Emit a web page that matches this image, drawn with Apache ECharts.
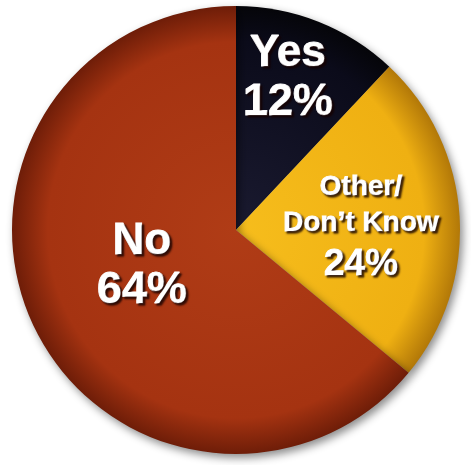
<!DOCTYPE html>
<html>
<head>
<meta charset="utf-8">
<script src="https://cdn.jsdelivr.net/npm/echarts@6/dist/echarts.min.js"></script>
<style>
  html, body { margin: 0; padding: 0; background: #ffffff; }
  #chart { width: 471px; height: 465px; }
</style>
</head>
<body>
<div id="chart"></div>
<script>
// Survey answers, in clockwise order from 12 o'clock
const categories = ['Yes', 'Other/\nDon\u2019t Know', 'No'];
const shares = [12, 24, 64];

// Per-slice shading: inner, body, rim
const sliceShades = [
  ['#1a1a30', '#0b0b1a', '#050509'],
  ['#f6bd1c', '#efb012', '#b27808'],
  ['#b03c16', '#a53311', '#6e1d08']
];

const CX = 236, CY = 230, R = 224;

function shade(i) {
  const s = sliceShades[i];
  return {
    type: 'radial', x: CX, y: CY, r: R, global: true,
    colorStops: [
      { offset: 0, color: s[0] },
      { offset: 0.84, color: s[1] },
      { offset: 1, color: s[2] }
    ]
  };
}

// Label anchor points for each slice (centre of the text block)
const labelSpots = [[288, 78], [361, 229], [142, 266]];

const FONT = '"Liberation Sans", Arial, sans-serif';
const txt = {
  color: '#ffffff',
  fontFamily: FONT,
  fontWeight: 'bold',
  textBorderColor: '#ffffff',
  textBorderWidth: 1,
  textShadowColor: 'rgba(20,0,0,0.85)',
  textShadowBlur: 2,
  textShadowOffsetX: 2,
  textShadowOffsetY: 2
};

const chart = echarts.init(document.getElementById('chart'), null, { renderer: 'canvas' });

chart.setOption({
  backgroundColor: '#ffffff',
  animation: false,
  series: [{
    type: 'pie',
    center: [CX, CY],
    radius: R,
    startAngle: 90,
    clockwise: true,
    avoidLabelOverlap: false,
    labelLine: { show: false },
    itemStyle: {
      borderWidth: 0,
      shadowColor: 'rgba(0,0,0,0.45)',
      shadowBlur: 8,
      shadowOffsetX: 3,
      shadowOffsetY: 4
    },
    label: {
      show: true,
      position: 'inside',
      align: 'center',
      formatter: function (p) {
        const big = p.dataIndex === 1 ? 's' : 'b';
        return '{' + big + '|' + p.name.split('\n').join('}\n{' + big + '|') + '}\n{v' + big + '|' + p.value + '%}';
      },
      rich: {
        b: Object.assign({ fontSize: 44, lineHeight: 49 }, txt),
        vb: Object.assign({ fontSize: 45, lineHeight: 49 }, txt),
        s: Object.assign({ fontSize: 28, lineHeight: 36 }, txt),
        vs: Object.assign({ fontSize: 37, lineHeight: 48 }, txt)
      }
    },
    labelLayout: function (p) {
      const spot = labelSpots[p.dataIndex];
      return { x: spot[0], y: spot[1], align: 'center', verticalAlign: 'middle' };
    },
    data: categories.map(function (name, i) {
      return { name: name, value: shares[i], itemStyle: { color: shade(i) } };
    })
  }]
});
</script>
</body>
</html>
